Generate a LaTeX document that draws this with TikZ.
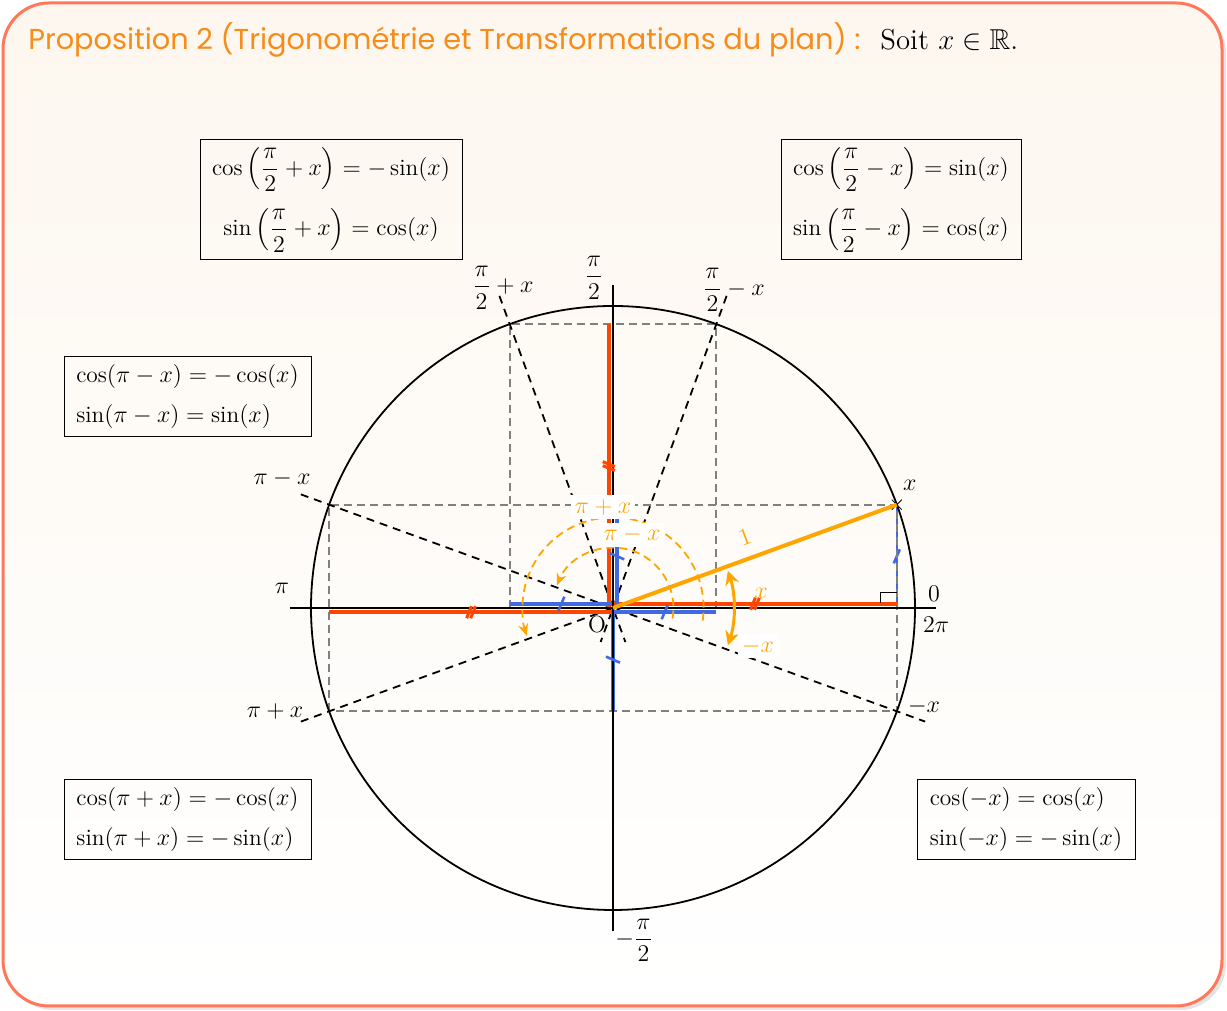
\documentclass[tikz,border=0pt]{standalone}
\usepackage{amsmath,amssymb}
\usepackage{fontspec}
\newfontfamily\titlefont{Poppins}
\usetikzlibrary{arrows.meta}
\definecolor{myred}{RGB}{255,69,0}
\definecolor{myblue}{RGB}{65,105,225}
\definecolor{myorange}{RGB}{255,165,0}
\definecolor{titleorange}{RGB}{247,140,25}
\definecolor{framecol}{RGB}{255,120,90}
\definecolor{bgtop}{RGB}{253,247,239}
\tikzset{
  fbox/.style={draw, line width=0.5pt, inner sep=0pt, align=left},
  graydash/.style={gray, line width=0.8pt, dash pattern=on 4pt off 2.5pt},
  blackdash/.style={black, line width=0.9pt, dash pattern=on 4pt off 3pt},
  axisline/.style={black, line width=0.9pt},
  redseg/.style={myred, line width=2.2pt},
  blueseg/.style={myblue, line width=2.2pt},
  orangedash/.style={myorange, line width=0.9pt, dash pattern=on 4pt off 2.5pt},
  olabel/.style={text=myorange, fill=white, inner sep=2pt},
  rtick/.pic={\draw[myred, line width=1.5pt] (-2.2pt,-3pt) -- (0.2pt,3pt) (-0.2pt,-3pt) -- (2.2pt,3pt);},
  btick/.pic={\draw[myblue, line width=1.3pt] (-1.5pt,-3.5pt) -- (1.5pt,3.5pt);},
  xmark/.pic={\draw[line width=0.4pt] (-2.5pt,-2.5pt) -- (2.5pt,2.5pt) (-2.5pt,2.5pt) -- (2.5pt,-2.5pt);}
}
\begin{document}
\begin{tikzpicture}[x=0.5pt,y=0.5pt,font=\fontsize{11.7}{14}\selectfont]
\useasboundingbox (0,0) rectangle (1227,1011);
% frame
\fill[black, opacity=0.10, rounded corners=23pt] (7,1) rectangle (1226,1004);
\draw[framecol, line width=1.5pt, rounded corners=23pt, top color=bgtop, bottom color=white] (3,5) rectangle (1222,1008);
% title
\node[anchor=base west, inner sep=0pt, text=titleorange, font=\titlefont\fontsize{14.4}{17}\selectfont] (title) at (28,961) {Proposition 2 (Trigonométrie et Transformations du plan) :};
\node[anchor=base west, inner sep=0pt, font=\fontsize{14.4}{17}\selectfont] (soit) at (880,961) {Soit $x\in\mathbb{R}$.};
% formula boxes
\node[fbox, align=center, minimum width=131pt, minimum height=60pt] (b1) at (331,811)
  {$\cos\left(\dfrac{\pi}{2}+x\right)=-\sin(x)$\\[7.5pt]$\sin\left(\dfrac{\pi}{2}+x\right)=\cos(x)$};
\node[fbox, align=center, minimum width=120pt, minimum height=60pt] (b2) at (901,811)
  {$\cos\left(\dfrac{\pi}{2}-x\right)=\sin(x)$\\[7.5pt]$\sin\left(\dfrac{\pi}{2}-x\right)=\cos(x)$};
\node[fbox, minimum width=123.5pt, minimum height=40pt] (b3) at (187.5,614)
  {$\cos(\pi-x)=-\cos(x)$\\[6pt]$\sin(\pi-x)=\sin(x)$};
\node[fbox, minimum width=123.5pt, minimum height=40pt] (b4) at (187.5,191)
  {$\cos(\pi+x)=-\cos(x)$\\[6pt]$\sin(\pi+x)=-\sin(x)$};
\node[fbox, minimum width=109pt, minimum height=40pt] (b5) at (1026,191)
  {$\cos(-x)=\cos(x)$\\[6pt]$\sin(-x)=-\sin(x)$};
% trigonometric circle
\begin{scope}[shift={(613,403)}, x=151pt, y=151pt]
  \coordinate (O) at (0,0);
  \coordinate (X) at (20:1);
  \coordinate (PmX) at (160:1);
  \coordinate (PpX) at (200:1);
  \coordinate (mX) at (-20:1);
  \coordinate (HpX) at (110:1);
  \coordinate (HmX) at (70:1);
  \coordinate (cX) at (0.9397,0);
  % thin blue sine at x
  \draw[myblue, line width=1pt] (cX) -- (X);
  \pic at (0.9397,0.171) {btick};
  % gray dashed rectangles
  \draw[graydash] (-0.9397,-0.3420) rectangle (0.9397,0.3420);
  \draw[graydash] (-0.3420,0) rectangle (0.3420,0.9397);
  % black dashed lines
  \coordinate (d1a) at (160:1.1); \coordinate (d1b) at (-20:1.1);
  \coordinate (d2a) at (200:1.1);
  \coordinate (d3a) at (110:1.1); \coordinate (d3b) at (-70:0.12);
  \coordinate (d4a) at (70:1.1);  \coordinate (d4b) at (250:0.12);
  \draw[blackdash] (d1a) -- (d1b);
  \draw[blackdash] (d2a) -- (X);
  \draw[blackdash] (d3a) -- (d3b);
  \draw[blackdash] (d4a) -- (d4b);
  % red and blue segments
  \draw[redseg] (0,0.014) -- (0.9397,0.014);
  \draw[redseg] (0,-0.014) -- (-0.9397,-0.014);
  \draw[redseg] (-0.014,0) -- (-0.014,0.9397);
  \draw[blueseg] (0,-0.014) -- (0.3420,-0.014);
  \draw[blueseg] (0,0.014) -- (-0.3420,0.014);
  \draw[blueseg] (0.014,0) -- (0.014,0.3420);
  \draw[blueseg] (0,0) -- (0,-0.3420);
  % axes and circle
  \coordinate (xl) at (-1.07,0); \coordinate (xr) at (1.07,0);
  \coordinate (yb) at (0,-1.07); \coordinate (yt) at (0,1.07);
  \draw[axisline] (xl) -- (xr);
  \draw[axisline] (yb) -- (yt);
  \draw[axisline] (O) circle[radius=1];
  % ticks
  \pic at (0.47,0.014) {rtick};
  \pic at (-0.47,-0.014) {rtick};
  \pic[rotate=-90] at (-0.014,0.47) {rtick};
  \pic at (0.171,-0.014) {btick};
  \pic at (-0.171,0.014) {btick};
  \pic[rotate=-90] at (0.014,0.171) {btick};
  \pic[rotate=-90] at (0,-0.171) {btick};
  % right angle
  \draw[line width=0.6pt] (0.885,0.016) -- (0.885,0.05) -- (0.9397,0.05);
  % marks
  \pic at (X) {xmark};
  % orange dashed arcs
  \draw[orangedash, -{Stealth[length=6pt,width=5pt]}] (-10:0.2) arc[start angle=-10, end angle=158, radius=0.2];
  \draw[orangedash, -{Stealth[length=6pt,width=5pt]}] (-8:0.3) arc[start angle=-8, end angle=198, radius=0.3];
  % radius and angle
  \draw[myorange, line width=2pt] (O) -- (X);
  \draw[myorange, line width=1.5pt, {Stealth[length=7pt,width=7pt]}-{Stealth[length=7pt,width=7pt]}] (-18:0.4) arc[start angle=-18, end angle=18, radius=0.4];
  % labels
  \node[text=myorange, inner sep=1pt] (lx) at (0.49,0.05) {$x$};
  \node[olabel] (lmx) at (0.48,-0.126) {$-x$};
  \node[text=myorange, rotate=20, inner sep=1pt] (l1) at (0.437,0.235) {$1$};
  \node[olabel] (lppx) at (-0.033,0.334) {$\pi+x$};
  \node[olabel] (lpmx) at (0.063,0.242) {$\pi-x$};
  \node[inner sep=1pt] (nx) at (0.983,0.407) {$x$};
  \node[inner sep=1pt] (nmx) at (1.03,-0.325) {$-x$};
  \node[inner sep=1pt] (npmx) at (-1.096,0.43) {$\pi-x$};
  \node[inner sep=1pt] (nppx) at (-1.119,-0.344) {$\pi+x$};
  \node[inner sep=1pt] (nhpx) at (-0.365,1.06) {$\dfrac{\pi}{2}+x$};
  \node[inner sep=1pt] (nh) at (-0.063,1.093) {$\dfrac{\pi}{2}$};
  \node[inner sep=1pt] (nhmx) at (0.40,1.053) {$\dfrac{\pi}{2}-x$};
  \node[inner sep=1pt] (n0) at (1.063,0.046) {$0$};
  \node[inner sep=1pt] (n2p) at (1.07,-0.056) {$2\pi$};
  \node[inner sep=1pt] (np) at (-1.096,0.066) {$\pi$};
  \node[inner sep=1pt] (nmh) at (0.07,-1.10) {$-\dfrac{\pi}{2}$};
  \node[inner sep=1pt] (nO) at (-0.053,-0.056) {O};
\end{scope}
\end{tikzpicture}
\end{document}
